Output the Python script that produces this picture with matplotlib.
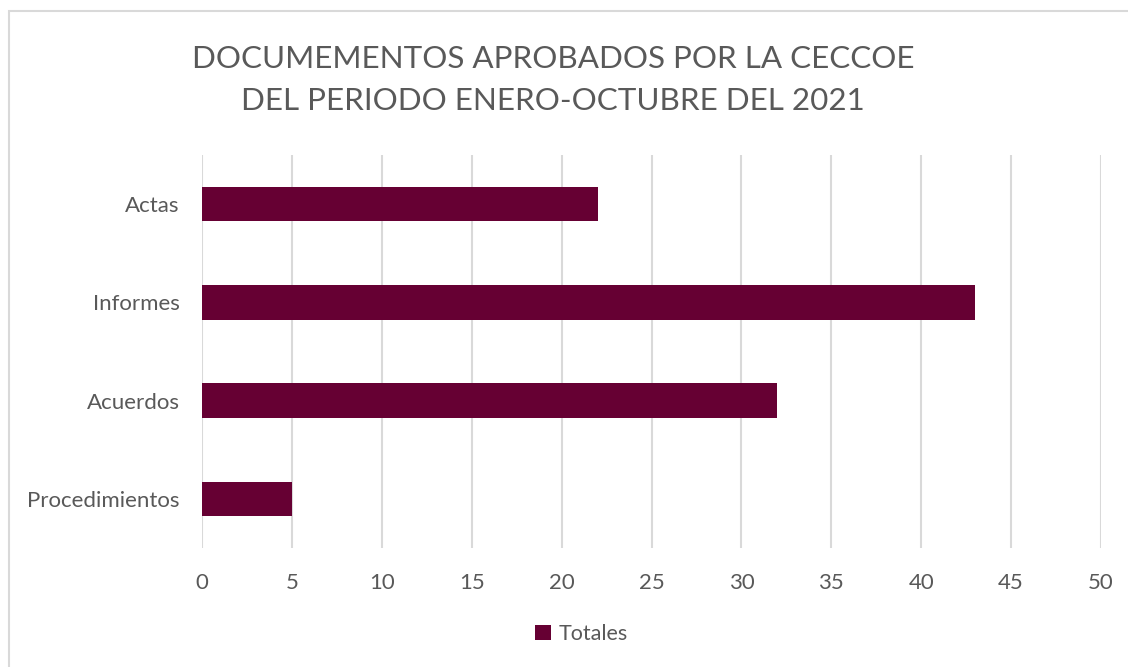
import matplotlib.pyplot as plt
from matplotlib.patches import Rectangle

categorias = ['Actas', 'Informes', 'Acuerdos', 'Procedimientos']
totales = [22, 43, 32, 5]
ticks_x = [0, 5, 10, 15, 20, 25, 30, 35, 40, 45, 50]

color_barra = '#660033'
gris = '#595959'

plt.rcParams['font.family'] = ['Lato', 'DejaVu Sans']

fig = plt.figure(figsize=(11.28, 6.67), dpi=100)
ax = fig.add_axes([202 / 1128, 1 - 548 / 667, (1101 - 202) / 1128, (548 - 155) / 667])

# marco gris del grafico
fig.patches.append(Rectangle((9 / 1128, -0.05), 1.2, 1 - 11 / 667 + 0.05,
                             transform=fig.transFigure, fill=False,
                             edgecolor='#d9d9d9', linewidth=1.5))

pos = list(range(len(categorias)))
ax.barh(pos, totales, height=0.35, color=color_barra, label='Totales', zorder=3)
ax.set_yticks(pos)
ax.set_yticklabels(categorias)
ax.set_ylim(len(categorias) - 0.5, -0.5)
ax.set_xlim(0, 50)
ax.set_xticks(ticks_x)
ax.xaxis.grid(True, color='#d9d9d9', linewidth=1.5, zorder=0)
for s in ax.spines.values():
    s.set_visible(False)
ax.tick_params(axis='both', length=0, colors=gris, labelsize=16)
ax.tick_params(axis='x', pad=18)
ax.tick_params(axis='y', pad=16)

fig.text(553 / 1128, 1 - 80 / 667,
         'DOCUMEMENTOS APROBADOS POR LA CECCOE\nDEL PERIODO ENERO-OCTUBRE DEL 2021',
         ha='center', va='center', fontsize=22.6, color=gris, linespacing=1.6)

fig.legend(loc='center', bbox_to_anchor=(581 / 1128, 1 - 634 / 667), frameon=False,
           fontsize=15.5, labelcolor=gris, handlelength=0.75, handleheight=0.75,
           handletextpad=0.35)

fig.savefig('out.png', dpi=100)
